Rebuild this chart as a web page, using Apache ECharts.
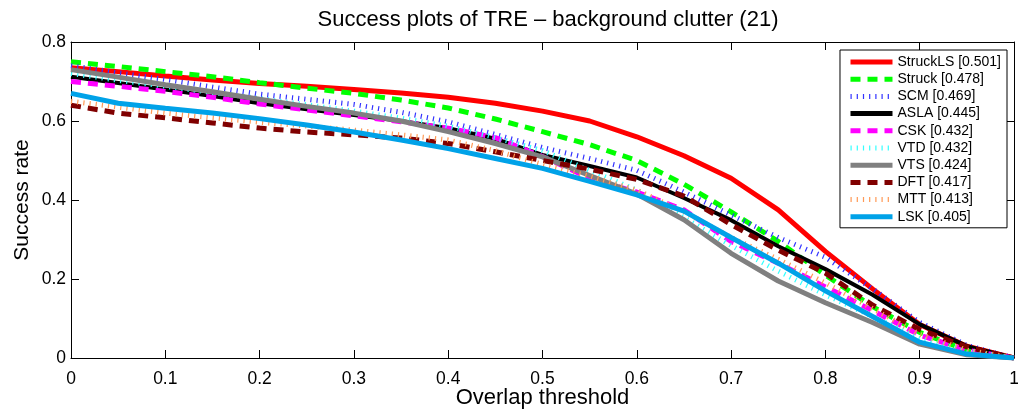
<!DOCTYPE html>
<html style="height: 100%">
    <head>
        <title>Success plots of TRE</title>
        <meta charset="utf-8">
    </head>
    <body style="height: 100%; margin: 0; background: #fff">
        <div id="container" style="width: 1018px; height: 414px"></div>

        <script type="text/javascript" src="https://cdn.jsdelivr.net/npm/echarts@6/dist/echarts.min.js"></script>
        <script type="text/javascript">
            var thresholds = [0, 0.05, 0.1, 0.15, 0.2, 0.25, 0.3, 0.35, 0.4, 0.45, 0.5,
                              0.55, 0.6, 0.65, 0.7, 0.75, 0.8, 0.85, 0.9, 0.95, 1];
            var names = ['StruckLS [0.501]', 'Struck [0.478]', 'SCM [0.469]', 'ASLA [0.445]', 'CSK [0.432]',
                         'VTD [0.432]', 'VTS [0.424]', 'DFT [0.417]', 'MTT [0.413]', 'LSK [0.405]'];
            var struckls = [0.735, 0.725, 0.714, 0.704, 0.695, 0.688, 0.680, 0.671, 0.660, 0.645, 0.625,
                            0.600, 0.560, 0.512, 0.455, 0.375, 0.27, 0.175, 0.085, 0.03, 0];
            var struck = [0.75, 0.738, 0.725, 0.712, 0.697, 0.683, 0.67, 0.653, 0.633, 0.605, 0.573,
                          0.54, 0.50, 0.44, 0.37, 0.295, 0.21, 0.13, 0.065, 0.02, 0];
            var scm = [0.74, 0.722, 0.705, 0.686, 0.668, 0.655, 0.642, 0.622, 0.598, 0.566, 0.533,
                       0.505, 0.475, 0.42, 0.362, 0.305, 0.255, 0.175, 0.09, 0.032, 0];
            var asla = [0.712, 0.696, 0.68, 0.663, 0.645, 0.63, 0.615, 0.6, 0.582, 0.555, 0.514,
                        0.486, 0.457, 0.405, 0.349, 0.283, 0.225, 0.16, 0.085, 0.03, 0];
            var csk = [0.70, 0.688, 0.675, 0.66, 0.643, 0.628, 0.613, 0.598, 0.582, 0.558, 0.51,
                       0.455, 0.42, 0.375, 0.295, 0.24, 0.18, 0.12, 0.058, 0.02, 0];
            var vtd = [0.72, 0.703, 0.688, 0.672, 0.657, 0.641, 0.625, 0.607, 0.587, 0.558, 0.525,
                       0.475, 0.425, 0.355, 0.285, 0.22, 0.16, 0.105, 0.05, 0.018, 0];
            var vts = [0.73, 0.711, 0.692, 0.674, 0.655, 0.637, 0.62, 0.6, 0.573, 0.543, 0.509,
                       0.462, 0.415, 0.35, 0.265, 0.195, 0.14, 0.09, 0.035, 0.008, 0];
            var dft = [0.64, 0.62, 0.608, 0.595, 0.582, 0.572, 0.565, 0.557, 0.543, 0.522, 0.5,
                       0.478, 0.452, 0.41, 0.338, 0.273, 0.215, 0.134, 0.072, 0.028, 0];
            var mtt = [0.65, 0.635, 0.62, 0.608, 0.597, 0.587, 0.577, 0.565, 0.552, 0.525, 0.49,
                       0.46, 0.425, 0.37, 0.305, 0.25, 0.19, 0.125, 0.06, 0.02, 0];
            var lsk = [0.67, 0.645, 0.632, 0.62, 0.606, 0.59, 0.572, 0.552, 0.53, 0.505, 0.48,
                       0.447, 0.413, 0.372, 0.305, 0.24, 0.17, 0.105, 0.04, 0.01, 0];

            var values = [struckls, struck, scm, asla, csk, vtd, vts, dft, mtt, lsk];
            var colors = ['#ff0000', '#00ff00', '#3333ff', '#000000', '#ff00ff',
                          '#33ffff', '#808080', '#800000', '#ff9955', '#00a2e8'];
            var dashes = ['solid', [10, 7], [1.2, 5], 'solid', [10, 7],
                          [1.2, 5], 'solid', [10, 7], [1.2, 5], 'solid'];
            var widths = [5, 5, 5, 4, 5, 5, 5, 5, 5, 5];

            var font = 'Liberation Sans, Arial, Helvetica, sans-serif';

            function pairs(arr) {
                return arr.map(function (v, i) { return [thresholds[i], v]; });
            }

            var dom = document.getElementById("container");
            var myChart = echarts.init(dom);

            var series = names.map(function (n, i) {
                return {
                    name: n,
                    type: 'line',
                    symbol: 'none',
                    smooth: false,
                    data: pairs(values[i]),
                    lineStyle: { color: colors[i], width: widths[i], type: dashes[i], cap: 'butt' },
                    itemStyle: { color: colors[i] }
                };
            });

            function tickLabel(v) { return String(Math.round(v * 10) / 10); }

            var option = {
                backgroundColor: '#fff',
                animation: false,
                title: {
                    text: 'Success plots of TRE \u2013 background clutter (21)',
                    left: 543,
                    textAlign: 'center',
                    top: 4,
                    textStyle: { fontFamily: font, fontSize: 22, fontWeight: 'normal', color: '#000' }
                },
                grid: { left: 71, right: 4, top: 42, bottom: 56, containLabel: false, outerBoundsMode: 'none' },
                legend: {
                    orient: 'vertical',
                    right: 11,
                    top: 50,
                    itemWidth: 42,
                    itemHeight: 12,
                    itemGap: 3.2,
                    padding: [5, 6, 4, 8],
                    backgroundColor: '#fff',
                    borderColor: '#000',
                    borderWidth: 1,
                    itemStyle: { opacity: 0 },
                    lineStyle: { width: 5 },
                    textStyle: { fontFamily: font, fontSize: 14, color: '#000' },
                    data: names
                },
                xAxis: [{
                    type: 'value',
                    min: 0,
                    max: 1,
                    interval: 0.1,
                    name: 'Overlap threshold',
                    nameLocation: 'middle',
                    nameGap: 29,
                    nameMoveOverlap: false,
                    nameTextStyle: { fontFamily: font, fontSize: 22, color: '#000' },
                    axisLine: { show: true, onZero: false, lineStyle: { color: '#000', width: 1 } },
                    axisTick: { show: true, inside: true, length: 8, lineStyle: { color: '#000' } },
                    axisLabel: { fontFamily: font, fontSize: 17.5, color: '#000', margin: 12, formatter: tickLabel },
                    splitLine: { show: false }
                }, {
                    type: 'value',
                    position: 'top',
                    min: 0,
                    max: 1,
                    interval: 0.1,
                    axisLine: { show: true, onZero: false, lineStyle: { color: '#000', width: 1 } },
                    axisTick: { show: true, inside: true, length: 8, lineStyle: { color: '#000' } },
                    axisLabel: { show: false },
                    splitLine: { show: false }
                }],
                yAxis: [{
                    type: 'value',
                    min: 0,
                    max: 0.8,
                    interval: 0.2,
                    name: 'Success rate',
                    nameLocation: 'middle',
                    nameGap: 38,
                    nameMoveOverlap: false,
                    nameTextStyle: { fontFamily: font, fontSize: 21, color: '#000' },
                    axisLine: { show: true, onZero: false, lineStyle: { color: '#000', width: 1 } },
                    axisTick: { show: true, inside: true, length: 8, lineStyle: { color: '#000' } },
                    axisLabel: { fontFamily: font, fontSize: 17.5, color: '#000', margin: 5, formatter: tickLabel },
                    splitLine: { show: false }
                }, {
                    type: 'value',
                    position: 'right',
                    min: 0,
                    max: 0.8,
                    interval: 0.2,
                    axisLine: { show: true, onZero: false, lineStyle: { color: '#000', width: 1 } },
                    axisTick: { show: true, inside: true, length: 8, lineStyle: { color: '#000' } },
                    axisLabel: { show: false },
                    splitLine: { show: false }
                }],
                series: series
            };

            if (option && typeof option === 'object') {
                myChart.setOption(option);
            }
            window.onresize = function () {
                myChart.resize();
            };
        </script>
    </body>
</html>
